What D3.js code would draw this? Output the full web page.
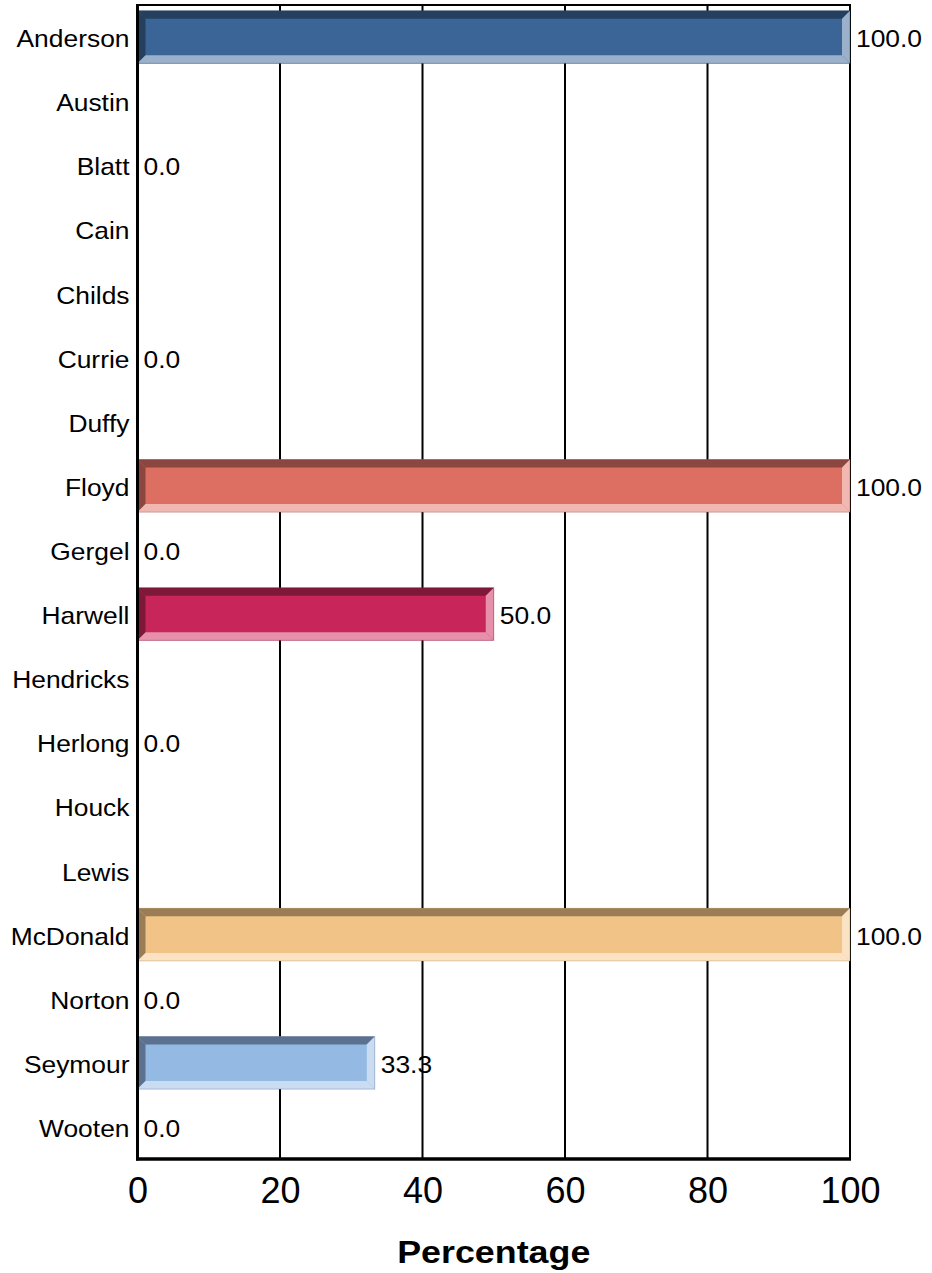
<!DOCTYPE html>
<html><head><meta charset="utf-8">
<script src="https://cdn.jsdelivr.net/npm/d3@7"></script>
<style>body{margin:0;background:#fff}svg{display:block}text{font-family:"Liberation Sans",Arial,sans-serif;fill:#000}</style>
</head><body>
<script>
const categories = ["Anderson","Austin","Blatt","Cain","Childs","Currie","Duffy","Floyd","Gergel","Harwell","Hendricks","Herlong","Houck","Lewis","McDonald","Norton","Seymour","Wooten"];
const values = [100.0,null,0.0,null,null,0.0,null,100.0,0.0,50.0,null,0.0,null,null,100.0,0.0,33.3,0.0];
const valueLabels = ["100.0","","0.0","","","0.0","","100.0","0.0","50.0","","0.0","","","100.0","0.0","33.3","0.0"];
const xTicks = [0,20,40,60,80,100];
const axisTitle = "Percentage";

const palette = {
  Anderson: {face:"#3b6596", dark:"#253f5f", light:"#9ab0cb"},
  Floyd:    {face:"#dc6f62", dark:"#8a463f", light:"#f0b8b1"},
  Harwell:  {face:"#c8265a", dark:"#7d1839", light:"#e690ab"},
  McDonald: {face:"#f1c387", dark:"#9a7c56", light:"#fae2c3"},
  Seymour:  {face:"#94b9e2", dark:"#5b718f", light:"#c9dcf1"}
};

const W = 932, H = 1273;
const L = 137.5, R = 850, T = 5, B = 1159;
const SX = 1.1;

const svg = d3.select("body").append("svg").attr("width", W).attr("height", H);
const x = d3.scaleLinear().domain([0,100]).range([L, R]);
const y = d3.scaleBand().domain(categories).range([T, B]).paddingInner(0.18).paddingOuter(0.09);

// gridlines
svg.append("g").selectAll("line").data(xTicks.filter(d => d > 0)).join("line")
  .attr("x1", d => x(d)).attr("x2", d => x(d)).attr("y1", T).attr("y2", B)
  .attr("stroke", "#000").attr("stroke-width", 2);
// top border
svg.append("line").attr("x1", L).attr("x2", R + 1).attr("y1", T).attr("y2", T).attr("stroke", "#000").attr("stroke-width", 2);

// bars
const bev = 8;
const bars = svg.append("g");
categories.forEach((c, i) => {
  const v = values[i];
  if (v == null || v <= 0) return;
  const p = palette[c];
  const x0 = x(0), x1 = x(v), y0 = y(c), y1 = y(c) + y.bandwidth();
  const g = bars.append("g");
  g.append("rect").attr("x", x0).attr("y", y0).attr("width", x1 - x0).attr("height", y1 - y0).attr("fill", p.face);
  const poly = (pts, col) => g.append("polygon").attr("points", pts.map(q => q.join(",")).join(" ")).attr("fill", col);
  poly([[x0,y0],[x1,y0],[x1-bev,y0+bev],[x0+bev,y0+bev]], p.dark);
  poly([[x0,y0],[x0+bev,y0+bev],[x0+bev,y1-bev],[x0,y1]], p.dark);
  poly([[x0,y1],[x0+bev,y1-bev],[x1-bev,y1-bev],[x1,y1]], p.light);
  poly([[x1,y0],[x1,y1],[x1-bev,y1-bev],[x1-bev,y0+bev]], p.light);
  g.append("rect").attr("x", x0).attr("y", y0).attr("width", x1 - x0).attr("height", y1 - y0)
    .attr("fill", "none").attr("stroke", p.dark).attr("stroke-opacity", 0.35).attr("stroke-width", 1);
});

// value labels
svg.append("g").selectAll("text").data(categories.map((c, i) => ({c, v: values[i], t: valueLabels[i]})).filter(d => d.v != null))
  .join("text")
  .attr("transform", d => `translate(${x(d.v) + 6},${y(d.c) + y.bandwidth()/2 + 10}) scale(${SX},1)`)
  .attr("font-size", 24).text(d => d.t);

// category labels
svg.append("g").selectAll("text").data(categories).join("text")
  .attr("transform", d => `translate(${L - 8},${y(d) + y.bandwidth()/2 + 10}) scale(${SX},1)`)
  .attr("text-anchor", "end").attr("font-size", 24).text(d => d);

// axes lines
svg.append("line").attr("x1", L).attr("x2", L).attr("y1", T - 1).attr("y2", B + 1.5).attr("stroke", "#000").attr("stroke-width", 3);
svg.append("line").attr("x1", L - 1.5).attr("x2", R + 1).attr("y1", B).attr("y2", B).attr("stroke", "#000").attr("stroke-width", 3.5);

// x axis ticks
const ax = svg.append("g").attr("transform", `translate(0,${B})`)
  .call(d3.axisBottom(x).tickValues(xTicks).tickSize(0).tickPadding(0).tickFormat(d3.format("d")));
ax.select(".domain").remove();
ax.selectAll("text").attr("font-size", 36).attr("dy", null).attr("y", 44)
  .style("font-family", '"Liberation Sans",Arial,sans-serif').attr("fill", "#000");

// axis title
svg.append("text").attr("transform", `translate(${(L + R)/2},1263) scale(${SX + 0.02},1)`)
  .attr("text-anchor", "middle").attr("font-size", 32).attr("font-weight", "bold").text(axisTitle);
</script>
</body></html>
